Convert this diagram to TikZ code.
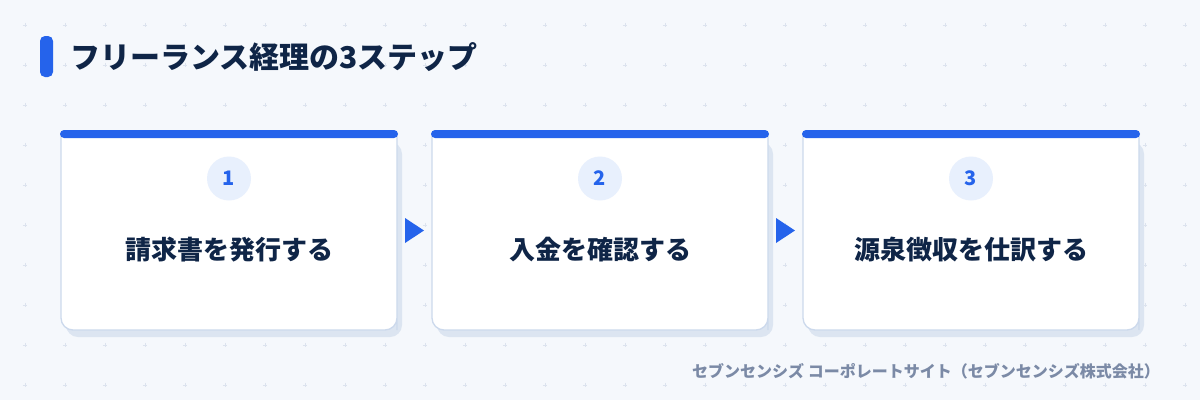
\documentclass[tikz,border=0pt]{standalone}
\usepackage{fontspec}
\usetikzlibrary{calc}
\setmainfont{Noto Sans CJK JP}
\definecolor{bgc}{HTML}{F5F8FC}
\definecolor{gridc}{HTML}{DCE3EE}
\definecolor{navy}{HTML}{0F2547}
\definecolor{accent}{HTML}{2563EB}
\definecolor{bordc}{HTML}{CCD9EC}
\definecolor{shadc}{HTML}{DCE5F1}
\definecolor{circc}{HTML}{E8F0FD}
\definecolor{footc}{HTML}{7B8AA6}
\tikzset{
  gridmark/.style={draw=gridc, line width=0.9pt},
  cardshadow/.style={fill=shadc},
  cardbody/.style={fill=white, draw=bordc, line width=1.3pt},
  topbar/.style={fill=accent, rounded corners=4pt},
  numcirc/.style={circle, fill=circc, minimum size=44pt, inner sep=0pt, text=accent, font=\fontsize{20}{24}\selectfont\bfseries},
  steptext/.style={inner sep=0pt, text=navy, font=\fontsize{26}{30}\selectfont\bfseries},
  flowtri/.style={fill=accent},
}
\begin{document}
\begin{tikzpicture}[x=1pt,y=-1pt]
\fill[bgc] (0,0) rectangle (1200,400);
\useasboundingbox (0,0) rectangle (1200,400);
\foreach \x in {25,65,...,1185}{
  \foreach \y in {25,65,...,385}{
    \draw[gridmark] (\x-2.2,\y) -- (\x+2.2,\y) (\x,\y-2.2) -- (\x,\y+2.2);
  }
}
% title
\fill[accent, rounded corners=5pt] (40,36) rectangle (53,77);
\node[anchor=west, inner sep=0pt, text=navy, font=\fontsize{30}{36}\selectfont\bfseries] (title) at (70,57) {フリーランス経理の3ステップ};
% cards
\foreach \cx/\n/\t/\nm in {229/1/請求書を発行する/a, 600/2/入金を確認する/b, 971/3/源泉徴収を仕訳する/c}{
  \fill[cardshadow, rounded corners=12pt] (\cx-163,142) rectangle (\cx+173,337);
  \draw[cardbody] (\cx-168,134) [rounded corners=12pt] -- (\cx-168,330) -- (\cx+168,330) -- (\cx+168,318) [sharp corners] -- (\cx+168,134) -- cycle;
  \fill[topbar] (\cx-169,130) rectangle (\cx+169,138);
  \node[numcirc] (num\nm) at (\cx,178.5) {\n};
  \node[steptext] (step\nm) at (\cx,250) {\t};
}
% flow triangles
\coordinate (ab) at (414.5,230.5);
\coordinate (bc) at (785.5,230.5);
\fill[flowtri] ($(ab)+(-9.5,-12.5)$) -- ($(ab)+(9.5,0)$) -- ($(ab)+(-9.5,12.5)$) -- cycle;
\fill[flowtri] ($(bc)+(-9.5,-12.5)$) -- ($(bc)+(9.5,0)$) -- ($(bc)+(-9.5,12.5)$) -- cycle;
% footer
\node[anchor=east, inner sep=0pt, text=footc, font=\fontsize{16}{20}\selectfont\bfseries] (foot) at (1160,371) {セブンセンシズ コーポレートサイト（セブンセンシズ株式会社）};
\end{tikzpicture}
\end{document}
